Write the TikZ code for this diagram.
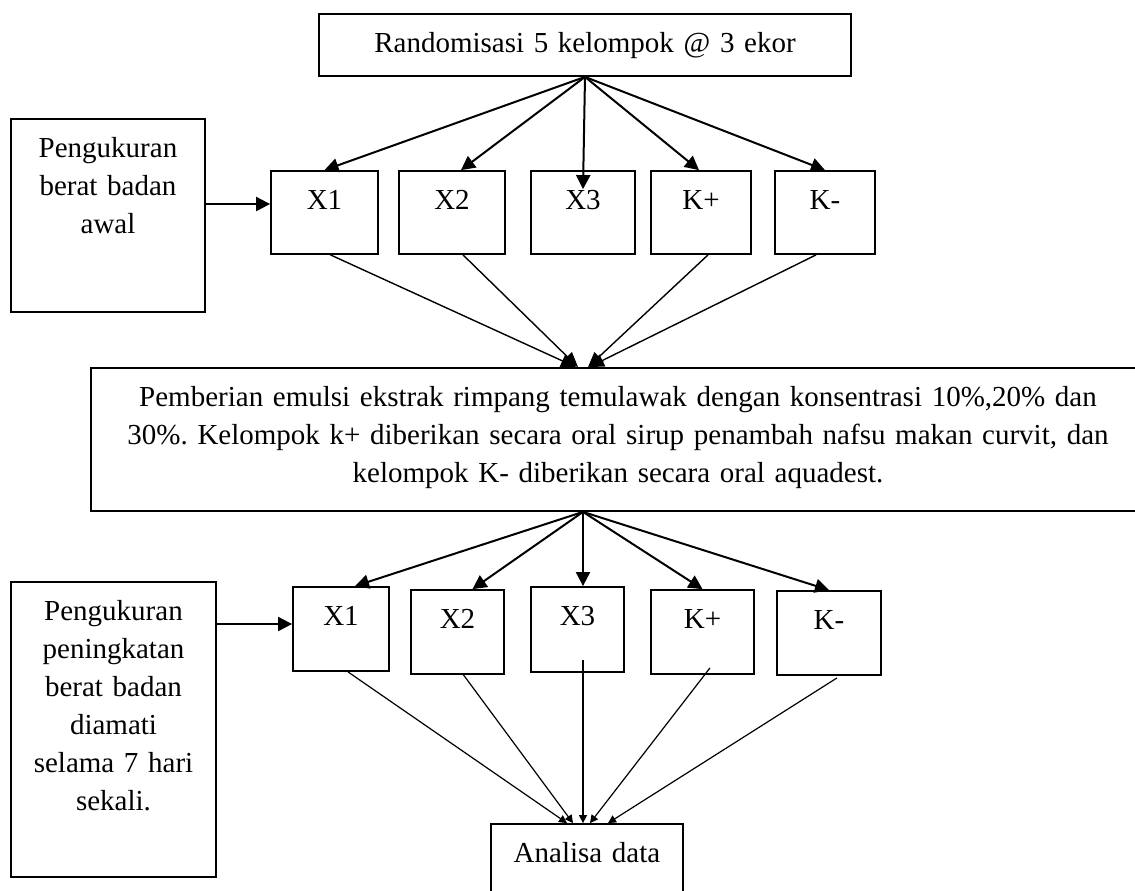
\documentclass[tikz,border=0pt]{standalone}
\usepackage{fontspec}
\setmainfont{Liberation Serif}
\usetikzlibrary{arrows.meta}
\frenchspacing
\tikzset{
  stepbox/.style={draw=black, line width=0.9pt, anchor=base, inner sep=0pt, align=center, text height=19pt},
  arrow/.style={-{Triangle[length=7pt,width=7pt]}, line width=1pt},
  thinarrow/.style={-{Triangle[length=7.5pt,width=6.5pt]}, line width=0.7pt},
  smallarrow/.style={-{Triangle[length=4pt,width=4pt]}, line width=0.6pt}
}

\begin{document}
\begin{tikzpicture}[x=0.5pt, y=-0.5pt, font=\fontsize{14.5}{19}\selectfont]
  \useasboundingbox (0,0) rectangle (1135,890);
  % top and left boxes
  \node[stepbox, text width=266pt, text depth=12pt] (rand) at (585,52) {Randomisasi 5 kelompok @ 3 ekor};
  \node[stepbox, text width=97pt, text depth=77.5pt] (awal) at (108,157) {Pengukuran\\berat badan\\awal};
  % first row of groups
  \node[stepbox, text width=53.5pt, text depth=22.5pt] (xa1) at (324.5,209) {X1};
  \node[stepbox, text width=53pt, text depth=22.5pt] (xa2) at (452,209) {X2};
  \node[stepbox, text width=52pt, text depth=22.5pt] (xa3) at (583,209) {X3};
  \node[stepbox, text width=50pt, text depth=22.5pt] (kap) at (701,209) {K+};
  \node[stepbox, text width=50pt, text depth=22.5pt] (kam) at (825,209) {K-};
  % treatment
  \node[stepbox, text width=527pt, text depth=52.5pt] (beri) at (618,406)
    {Pemberian emulsi ekstrak rimpang temulawak dengan konsentrasi 10\%,20\% dan\\
     30\%. Kelompok k+ diberikan secara oral sirup penambah nafsu makan curvit, dan\\
     kelompok K- diberikan secara oral aquadest.};
  % second row of groups
  \node[stepbox, text width=102.5pt, text depth=128.5pt] (naik) at (113.5,620)
    {Pengukuran\\peningkatan\\berat badan\\diamati\\selama 7 hari\\sekali.};
  \node[stepbox, text width=48pt, text depth=23pt] (xb1) at (341,625) {X1};
  \node[stepbox, text width=46.5pt, text depth=23pt] (xb2) at (457.5,628) {X2};
  \node[stepbox, text width=46.5pt, text depth=23.5pt] (xb3) at (577.5,625) {X3};
  \node[stepbox, text width=51.5pt, text depth=23pt] (kbp) at (702.5,628) {K+};
  \node[stepbox, text width=52pt, text depth=23pt] (kbm) at (829,629) {K-};
  \node[stepbox, text width=96pt, text depth=24pt] (anal) at (587,862) {Analisa data};

  \draw[arrow] (awal.east|-0,204) -- (xa1.west|-0,204);
  \draw[arrow] (rand.south) -- (xa1.north);
  \draw[arrow] (rand.south) -- ([xshift=4.5pt]xa2.north);
  \draw[arrow] (rand.south) -- ([yshift=-9.5pt]xa3.north);
  \draw[arrow] (rand.south) -- ([xshift=-1pt]kap.north);
  \draw[arrow] (rand.south) -- (kam.north);

  \draw[thinarrow] ([xshift=3pt]xa1.south) -- ([xshift=-21pt]beri.north);
  \draw[thinarrow] ([xshift=5.5pt]xa2.south) -- ([xshift=-20pt]beri.north);
  \draw[thinarrow] ([xshift=3.5pt]kap.south) -- ([xshift=-15pt]beri.north);
  \draw[thinarrow] ([xshift=-4.5pt]kam.south) -- ([xshift=-14.5pt]beri.north);

  \draw[arrow] (naik.east|-0,624) -- (xb1.west|-0,624);
  \draw[arrow] ([xshift=-17.5pt]beri.south) -- ([xshift=7pt]xb1.north);
  \draw[arrow] ([xshift=-17.5pt]beri.south) -- ([xshift=7.5pt]xb2.north);
  \draw[arrow] ([xshift=-17.5pt]beri.south) -- ([xshift=2.75pt]xb3.north);
  \draw[arrow] ([xshift=-17.5pt]beri.south) -- (kbp.north);
  \draw[arrow] ([xshift=-17.5pt]beri.south) -- (kbm.north);

  \draw[smallarrow] ([xshift=3.5pt]xb1.south) -- ([xshift=-10pt]anal.north);
  \draw[smallarrow] ([xshift=3pt]xb2.south) -- ([xshift=-7pt]anal.north);
  \draw[smallarrow] ([xshift=2.75pt,yshift=6.5pt]xb3.south) -- ([xshift=-2pt]anal.north);
  \draw[smallarrow] ([xshift=3.75pt,yshift=3.5pt]kbp.south) -- ([xshift=1.5pt]anal.north);
  \draw[smallarrow] ([xshift=4pt,yshift=-1pt]kbm.south) -- ([xshift=10.5pt]anal.north);
\end{tikzpicture}
\end{document}
